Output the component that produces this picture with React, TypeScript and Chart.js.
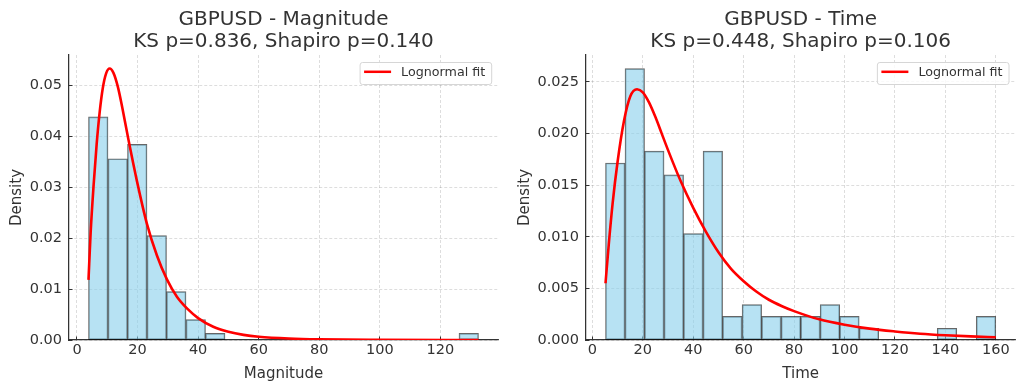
import React, { useEffect, useRef } from 'react';
import { Chart, registerables } from 'chart.js';

Chart.register(...registerables);

// ---------------- Data ----------------
const magTitle = ['GBPUSD - Magnitude', 'KS p=0.836, Shapiro p=0.140'];
const magBinEdges = [3.8, 10.24, 16.68, 23.12, 29.56, 36.0, 42.44, 48.88, 55.32, 61.76, 68.2, 74.64, 81.08, 87.52, 93.96, 100.4, 106.84, 113.28, 119.72, 126.16, 132.6];
const magDensity = [0.0438, 0.0356, 0.0384, 0.0205, 0.0095, 0.0040, 0.0013, 0, 0, 0, 0, 0, 0, 0, 0, 0, 0, 0, 0, 0.0013];
const magFitX = [3.8, 4.5, 5.5, 6.5, 7.5, 8.5, 9.6, 10.8, 12.0, 13.5, 15.0, 17.0, 19.8, 23.1, 26.4, 29.7, 33.0, 36.5, 40.0, 45.0, 50.0, 55.0, 60.0, 70.0, 80.0, 100.0, 132.6];
const magFitY = [0.0118, 0.0210, 0.0305, 0.0385, 0.0448, 0.0494, 0.0523, 0.0533, 0.0525, 0.0497, 0.0455, 0.0393, 0.0312, 0.0228, 0.0166, 0.0119, 0.0085, 0.0061, 0.0043, 0.0026, 0.0016, 0.0010, 0.00065, 0.0003, 0.00014, 0.00004, 0.000003];
const magXTicks = [0, 20, 40, 60, 80, 100, 120];
const magYTicks = [0, 0.01, 0.02, 0.03, 0.04, 0.05];

const timeTitle = ['GBPUSD - Time', 'KS p=0.448, Shapiro p=0.106'];
const timeBinEdges = [5.2, 12.94, 20.68, 28.42, 36.16, 43.9, 51.64, 59.38, 67.12, 74.86, 82.6, 90.34, 98.08, 105.82, 113.56, 121.3, 129.04, 136.78, 144.52, 152.26, 160.0];
const timeDensity = [0.01715, 0.0263, 0.0183, 0.0160, 0.0103, 0.0183, 0.00229, 0.00343, 0.00229, 0.00229, 0.00229, 0.00343, 0.00229, 0.00114, 0, 0, 0, 0.00114, 0, 0.00229];
const timeFitX = [5.2, 6.5, 8, 10, 12.5, 15, 17.7, 20, 22.5, 25, 27.5, 30, 35, 40, 45, 50, 55, 60, 65, 70, 75, 80, 90, 100, 110, 120, 130, 140, 150, 160];
const timeFitY = [0.0055, 0.0093, 0.0132, 0.0173, 0.0212, 0.0236, 0.0243, 0.0240, 0.0230, 0.0216, 0.0200, 0.0184, 0.0154, 0.0128, 0.0105, 0.0085, 0.0069, 0.0057, 0.0047, 0.0039, 0.0033, 0.0028, 0.0020, 0.00148, 0.00110, 0.00083, 0.00061, 0.00046, 0.00035, 0.00027];
const timeXTicks = [0, 20, 40, 60, 80, 100, 120, 140, 160];
const timeYTicks = [0, 0.005, 0.01, 0.015, 0.02, 0.025];

const xLabelMag = 'Magnitude';
const xLabelTime = 'Time';
const yLabel = 'Density';
const fitLabel = 'Lognormal fit';

// ---------------- Styling ----------------
const FONT = "'DejaVu Sans', 'Liberation Sans', sans-serif";
const TEXT = '#333333';

Chart.defaults.font.family = FONT;
Chart.defaults.color = TEXT;

const boxLegend = {
  id: 'boxLegend',
  afterDatasetsDraw(chart: any) {
    const { ctx, chartArea } = chart;
    const ds = chart.data.datasets.find((d: any) => d.type === 'line');
    if (!ds) return;
    const label = ds.label as string;
    ctx.save();
    ctx.font = `12.7px ${FONT}`;
    const tw = ctx.measureText(label).width;
    const w = 4 + 27 + 10 + tw + 6.5;
    const h = 22;
    const x = chartArea.right - 6.3 - w;
    const y = chartArea.top + 7.5;
    ctx.beginPath();
    if ((ctx as any).roundRect) (ctx as any).roundRect(x, y, w, h, 2.5);
    else ctx.rect(x, y, w, h);
    ctx.fillStyle = 'rgba(255,255,255,0.8)';
    ctx.fill();
    ctx.strokeStyle = '#d6d6d6';
    ctx.lineWidth = 1;
    ctx.stroke();
    ctx.beginPath();
    ctx.moveTo(x + 4, y + 9.3);
    ctx.lineTo(x + 31, y + 9.3);
    ctx.strokeStyle = ds.borderColor;
    ctx.lineWidth = 2.5;
    ctx.stroke();
    ctx.fillStyle = TEXT;
    ctx.textBaseline = 'middle';
    ctx.textAlign = 'left';
    ctx.fillText(label, x + 41, y + 10);
    ctx.restore();
  },
};

type Props = {
  title: string[];
  edges: number[];
  density: number[];
  fitX: number[];
  fitY: number[];
  xTicks: number[];
  yTicks: number[];
  xLabel: string;
  yDecimals: number;
  yAxisWidth: number;
  rightPad: number;
  yTitlePad: number;
};

function HistChart(p: Props) {
  const ref = useRef<HTMLCanvasElement | null>(null);
  useEffect(() => {
    if (!ref.current) return;
    const bars = p.density.map((d, i) => ({ x: (p.edges[i] + p.edges[i + 1]) / 2, y: d }));
    const fit = p.fitX.map((x, i) => ({ x, y: p.fitY[i] }));
    const xMin = p.edges[0], xMax = p.edges[p.edges.length - 1];
    const xr = xMax - xMin;
    const yTop = Math.max(...p.density, ...p.fitY) * 1.05;
    const xStep = p.xTicks[1] - p.xTicks[0];
    const yStep = p.yTicks[1] - p.yTicks[0];

    const chart = new Chart(ref.current, {
      type: 'bar',
      data: {
        datasets: [
          {
            type: 'line',
            label: fitLabel,
            data: fit,
            borderColor: '#ff0000',
            borderWidth: 2.6,
            pointRadius: 0,
            fill: false,
            cubicInterpolationMode: 'monotone',
            order: 0,
          } as any,
          {
            type: 'bar',
            label: 'hist',
            data: bars,
            backgroundColor: 'rgba(135,206,235,0.6)',
            borderColor: 'rgba(0,0,0,0.6)',
            borderWidth: 1,
            borderSkipped: false,
            barPercentage: 1,
            categoryPercentage: 1,
            order: 1,
          } as any,
        ],
      },
      options: {
        animation: false,
        responsive: false,
        events: [],
        layout: { padding: { left: 0, right: p.rightPad, top: 0, bottom: 0 } },
        plugins: {
          legend: { display: false },
          tooltip: { enabled: false },
          title: {
            display: true,
            text: p.title,
            fullSize: false,
            color: TEXT,
            font: { size: 20, weight: 'normal', lineHeight: 1.1, family: FONT },
            padding: { top: 8.5, bottom: 2.5 },
          },
        },
        scales: {
          x: {
            type: 'linear',
            min: xMin - 0.05 * xr,
            max: xMax + 0.05 * xr,
            offset: false,
            afterFit: (s: any) => { s.height = 50; },
            ticks: {
              stepSize: xStep,
              includeBounds: false,
              autoSkip: false,
              maxRotation: 0,
              padding: 5,
              color: TEXT,
              font: { size: 14.5, family: FONT },
              callback: (v: any) => String(v),
            },
            grid: {
              offset: false,
              color: 'rgba(0,0,0,0.17)',
              lineWidth: 0.8,
              tickLength: -3.5,
              tickColor: TEXT,
              tickWidth: 1,
              tickBorderDash: [],
            },
            border: { display: true, color: TEXT, width: 1.25, dash: [3, 2] },
            title: {
              display: true,
              text: p.xLabel,
              color: TEXT,
              font: { size: 15, family: FONT, lineHeight: 1.2 },
              padding: { top: 0, bottom: 7.3 },
            },
          },
          y: {
            type: 'linear',
            min: 0,
            max: yTop,
            afterFit: (s: any) => { s.width = p.yAxisWidth; },
            ticks: {
              stepSize: yStep,
              includeBounds: false,
              padding: 10.5,
              color: TEXT,
              font: { size: 14.5, family: FONT },
              callback: (v: any) => Number(v).toFixed(p.yDecimals),
            },
            grid: {
              color: 'rgba(0,0,0,0.17)',
              lineWidth: 0.8,
              tickLength: -3.5,
              tickColor: TEXT,
              tickWidth: 1,
              tickBorderDash: [],
            },
            border: { display: true, color: TEXT, width: 1.25, dash: [3, 2] },
            title: {
              display: true,
              text: yLabel,
              color: TEXT,
              font: { size: 15, family: FONT, lineHeight: 1.2 },
              padding: { top: p.yTitlePad, bottom: 0 },
            },
          },
        },
      } as any,
      plugins: [boxLegend],
    });
    return () => chart.destroy();
  }, []);
  return <canvas ref={ref} width={512} height={390} style={{ display: 'block', width: 512, height: 390 }} />;
}

export default function App() {
  return (
    <div style={{ position: 'absolute', left: 0, top: 0, width: 1024, height: 390, background: '#fff', display: 'flex' }}>
      <HistChart
        title={magTitle}
        edges={magBinEdges}
        density={magDensity}
        fitX={magFitX}
        fitY={magFitY}
        xTicks={magXTicks}
        yTicks={magYTicks}
        xLabel={xLabelMag}
        yDecimals={2}
        yAxisWidth={69}
        rightPad={14}
        yTitlePad={8.5}
      />
      <HistChart
        title={timeTitle}
        edges={timeBinEdges}
        density={timeDensity}
        fitX={timeFitX}
        fitY={timeFitY}
        xTicks={timeXTicks}
        yTicks={timeYTicks}
        xLabel={xLabelTime}
        yDecimals={3}
        yAxisWidth={74}
        rightPad={8.7}
        yTitlePad={3.7}
      />
    </div>
  );
}
